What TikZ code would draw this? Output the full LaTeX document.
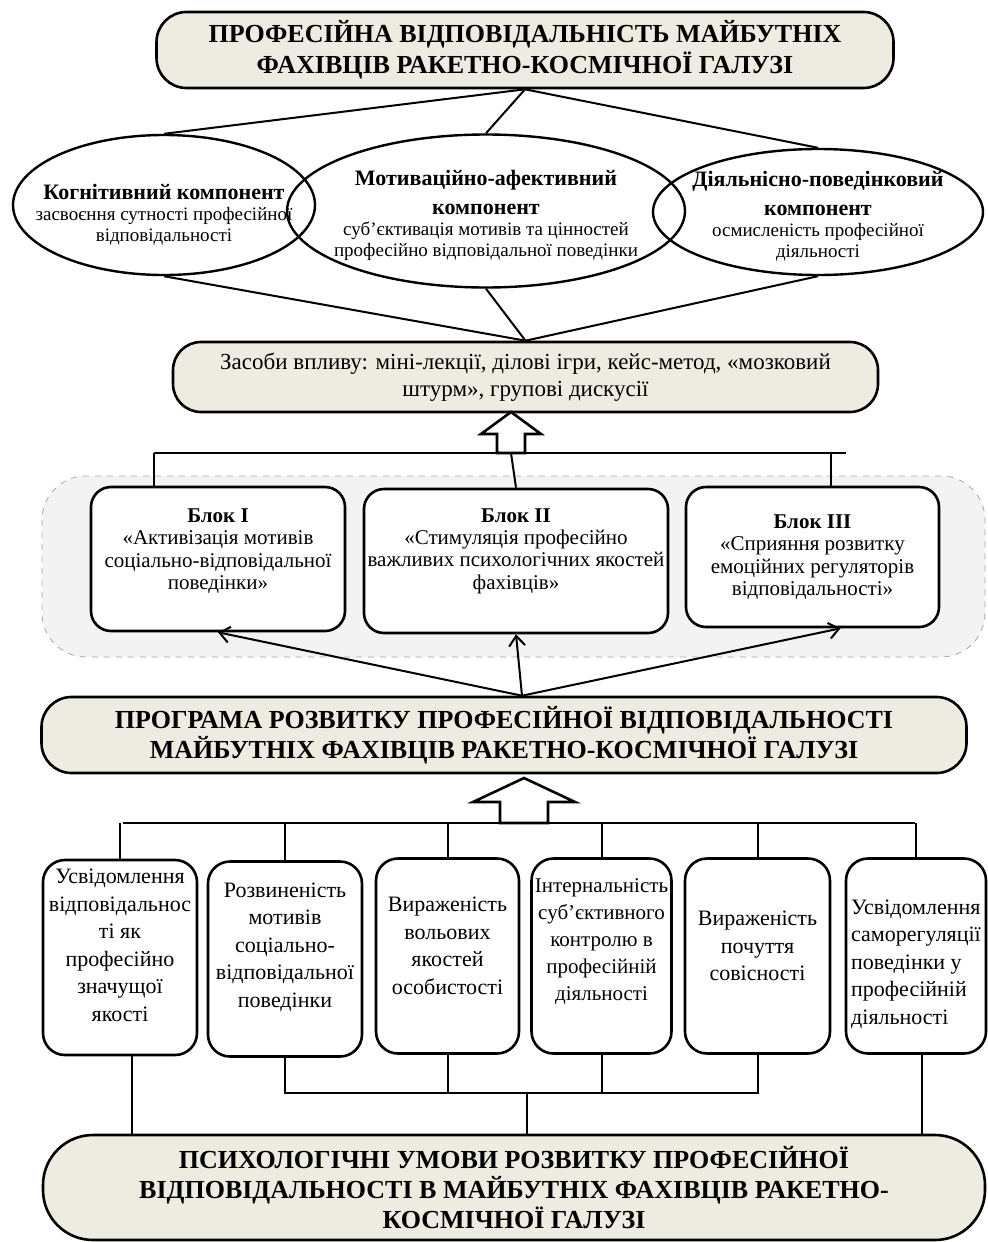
\documentclass[tikz,border=0pt]{standalone}
\usepackage{fontspec}
\setmainfont{Liberation Serif}
\usetikzlibrary{shapes.geometric,arrows.meta}

\definecolor{beige}{RGB}{238,236,225}
\definecolor{blockbg}{RGB}{243,243,243}
\newcommand{\comphead}[1]{{\bfseries\fontsize{11}{12.5}\selectfont #1}}

\begin{document}
\begin{tikzpicture}[x=0.5pt, y=-0.5pt, >={Straight Barb[length=5pt,width=8pt]},
    headbox/.style={draw, line width=1.3pt, fill=beige, rounded corners=15pt, align=center, inner sep=0pt, font=\bfseries\fontsize{13}{15.5}\selectfont},
    comp/.style={draw, ellipse, line width=1.2pt, inner sep=0pt},
    comptext/.style={align=center, inner sep=0pt, font=\fontsize{9.5}{10.5}\selectfont},
    blockbox/.style={draw, line width=1.3pt, fill=white, rounded corners=10pt, inner sep=0pt},
    blocktext/.style={align=center, inner sep=0pt, font=\fontsize{10.5}{11.2}\selectfont},
    cond/.style={draw, line width=1.3pt, fill=white, rounded corners=11pt, inner sep=0pt, minimum height=97.5pt},
    condtext/.style={align=center, inner sep=0pt, font=\fontsize{11}{13.75}\selectfont},
    link/.style={line width=1pt},
    hollow/.style={draw, line width=1.3pt, fill=white, line join=miter}]

    \useasboundingbox (0,0) rectangle (987,1242);

    % Responsibility (top)
    \node[headbox, minimum width=368.5pt, minimum height=38pt] (top) at (525,50)
        {ПРОФЕСІЙНА ВІДПОВІДАЛЬНІСТЬ МАЙБУТНІХ\\ФАХІВЦІВ РАКЕТНО-КОСМІЧНОЇ ГАЛУЗІ};

    % Components
    \node[comp, minimum width=151pt, minimum height=70pt,
        label={[comptext, yshift=-5pt]center:{\comphead{Когнітивний компонент}\\засвоєння сутності професійної\\відповідальності}}] (cog) at (164,205) {};
    \node[comp, minimum width=199pt, minimum height=76.5pt,
        label={[comptext, yshift=-2pt]center:{\comphead{Мотиваційно-афективний}\\[4pt]\comphead{компонент}\\суб’єктивація мотивів та цінностей\\професійно відповідальної поведінки}}] (motiv) at (486,211) {};
    \node[comp, minimum width=165pt, minimum height=63pt,
        label={[comptext, yshift=-2pt]center:{\comphead{Діяльнісно-поведінковий}\\[4pt]\comphead{компонент}\\осмисленість професійної\\діяльності}}] (act) at (818,212) {};

    % Means of influence
    \node[headbox, font=\fontsize{11.5}{13.5}\selectfont, rounded corners=14pt, minimum width=352.5pt, minimum height=35pt] (tools) at (525.5,377)
        {Засоби впливу: міні-лекції, ділові ігри, кейс-метод, «мозковий\\штурм», групові дискусії};

    % Connect top to components
    \draw[link] (top.south) -- (cog.north);
    \draw[link] (top.south) -- (motiv.north);
    \draw[link] (top.south) -- (act.north);

    % Connect components to means
    \draw[link] (cog.south) -- (tools.north);
    \draw[link] (motiv.south) -- (tools.north);
    \draw[link] (act.south) -- (tools.north);

    % Blocks of the program
    \node[draw=gray!70, dashed, fill=blockbg, rounded corners=22pt, minimum width=471.5pt, minimum height=90.5pt] (blocks) at (513.5,566.5) {};
    \node[blockbox, minimum width=127pt, minimum height=72pt,
        label={[blocktext, yshift=4pt]center:{\textbf{Блок I}\\«Активізація мотивів\\соціально-відповідальної\\поведінки»}}] (b1) at (218,559) {};
    \node[blockbox, minimum width=152pt, minimum height=72pt,
        label={[blocktext, yshift=5pt]center:{\textbf{Блок II}\\«Стимуляція професійно\\важливих психологічних якостей\\фахівців»}}] (b2) at (516,561) {};
    \node[blockbox, minimum width=126.5pt, minimum height=70pt,
        label={[blocktext]center:{\textbf{Блок III}\\«Сприяння розвитку\\емоційних регуляторів\\відповідальності»}}] (b3) at (812.5,557) {};

    % Blocks up to means
    \coordinate (arrA) at (511,453);
    \coordinate (busL) at (154,453);
    \coordinate (busR) at (846,453);
    \coordinate (busR3) at (831,453);
    \draw[link] (busL) -- (busR);
    \draw[link] (busL) -- (busL |- b1.north);
    \draw[link] (arrA) -- (b2.north);
    \draw[link] (busR3) -- (busR3 |- b3.north);
    \draw[hollow] (arrA) ++(-14,0) -- ++(0,-19) -- ++(-16,0) -- ++(30,-22) -- ++(30,22) -- ++(-16,0) -- ++(0,19) -- cycle;

    % Program
    \node[headbox, rounded corners=15pt, font=\bfseries\fontsize{13}{15}\selectfont, minimum width=462.5pt, minimum height=38pt] (prog) at (504,735)
        {ПРОГРАМА РОЗВИТКУ ПРОФЕСІЙНОЇ ВІДПОВІДАЛЬНОСТІ\\МАЙБУТНІХ ФАХІВЦІВ РАКЕТНО-КОСМІЧНОЇ ГАЛУЗІ};

    % Program to blocks
    \draw[link,->] ([xshift=9pt]prog.north) -- (b1.south);
    \draw[link,->] ([xshift=9pt]prog.north) -- (b2.south);
    \draw[link,->] ([xshift=9pt]prog.north) -- ([xshift=14pt]b3.south);

    % Conditions
    \node[cond, minimum width=77pt,
        label={[condtext, yshift=6pt]center:{Усвідомлення\\відповідальнос\\ті як\\професійно\\значущої\\якості}}] (c1) at (120,957.5) {};
    \node[cond, minimum width=77pt,
        label={[condtext, yshift=6pt]center:{Розвиненість\\мотивів\\соціально-\\відповідальної\\поведінки}}] (c2) at (285,959) {};
    \node[cond, minimum width=71.5pt,
        label={[condtext, yshift=5pt]center:{Вираженість\\вольових\\якостей\\особистості}}] (c3) at (447.5,956) {};
    \node[cond, minimum width=70pt,
        label={[condtext, font=\fontsize{10.5}{13.5}\selectfont, yshift=7pt]center:{Інтернальність\\суб’єктивного\\контролю в\\професійній\\діяльності}}] (c4) at (601.5,956) {};
    \node[cond, minimum width=72.5pt,
        label={[condtext, yshift=5pt]center:{Вираженість\\почуття\\совісності}}] (c5) at (757.5,956) {};
    \node[cond, minimum width=70pt,
        label={[condtext, align=left, yshift=-4pt]center:{Усвідомлення\\саморегуляції\\поведінки у\\професійній\\діяльності}}] (c6) at (916,956) {};

    % Conditions up to program
    \coordinate (arrB) at (524,823);
    \coordinate (busL2) at (123,823);
    \coordinate (busR2) at (915,823);
    \draw[link] (busL2) -- (busR2);
    \foreach \c in {c1,c2,c3,c4,c5,c6}
        \draw[link] (\c.north) -- (\c.north |- busL2);
    \draw[hollow] (arrB) ++(-24,0) -- ++(0,-21) -- ++(-27,0) -- ++(51,-24) -- ++(51,24) -- ++(-27,0) -- ++(0,21) -- cycle;

    % Psychological conditions (bottom)
    \node[headbox, rounded corners=25pt, font=\bfseries\fontsize{13}{15}\selectfont, minimum width=471pt, minimum height=52.5pt] (cond) at (514,1187.5)
        {ПСИХОЛОГІЧНІ УМОВИ РОЗВИТКУ ПРОФЕСІЙНОЇ\\ВІДПОВІДАЛЬНОСТІ В МАЙБУТНІХ ФАХІВЦІВ РАКЕТНО-\\КОСМІЧНОЇ ГАЛУЗІ};

    % Conditions down to bottom
    \coordinate (busB) at (527,1093);
    \draw[link] (c2.south) -- (c2.south |- busB) -- (c5.south |- busB) -- (c5.south);
    \draw[link] (c3.south) -- (c3.south |- busB);
    \draw[link] (c4.south) -- (c4.south |- busB);
    \draw[link] (busB) -- (busB |- cond.north);
    \draw[link] ([xshift=6pt]c1.south) -- ([xshift=6pt]c1.south |- cond.north);
    \draw[link] ([xshift=3pt]c6.south) -- ([xshift=3pt]c6.south |- cond.north);

\end{tikzpicture}
\end{document}
